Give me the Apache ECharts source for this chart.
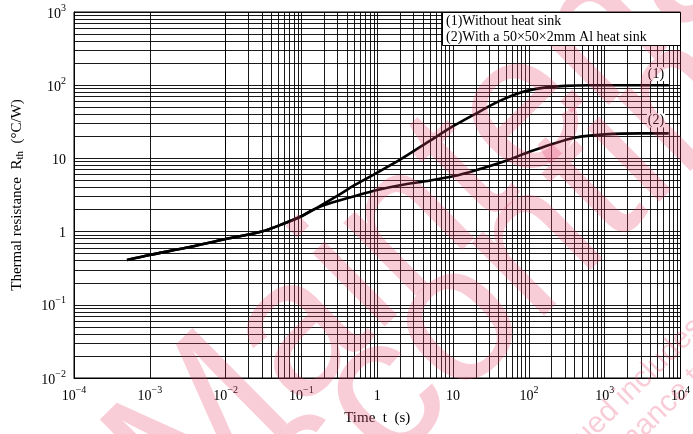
<!DOCTYPE html>
<html>
<head>
<meta charset="utf-8">
<script src="https://cdn.jsdelivr.net/npm/echarts@6/dist/echarts.min.js"></script>
<style>html,body{margin:0;padding:0;background:#fff;}#c{width:693px;height:434px;}</style>
</head>
<body>
<div id="c"></div>
<script>
// ---- data ----
const seriesNames = ['(1)Without heat sink', '(2)With a 50\u00d750\u00d72mm Al heat sink'];
const curveTags = ['(1)', '(2)'];
const times1 = [5e-4, 1e-3, 3e-3, 1e-2, 0.03, 0.06, 0.1, 0.17, 0.3, 0.5, 1, 2, 5, 10, 20, 40, 80, 150, 300, 600, 1000, 3000, 7000];
const rth1   = [0.41, 0.48, 0.6, 0.79, 1.0, 1.3, 1.62, 2.2, 3.1, 4.3, 6.4, 9.6, 17.5, 27.5, 41, 60, 80, 92, 98, 100, 100, 100, 100];
const times2 = [5e-4, 1e-3, 3e-3, 1e-2, 0.03, 0.06, 0.1, 0.13, 0.2, 0.3, 0.5, 1, 2, 5, 10, 20, 50, 100, 200, 400, 1000, 3000, 7000];
const rth2   = [0.41, 0.48, 0.6, 0.79, 1.0, 1.3, 1.62, 1.9, 2.3, 2.62, 3.05, 3.7, 4.3, 5.0, 5.7, 6.9, 9.3, 12.2, 15.6, 19.2, 21.3, 22, 22];
const tagPos = [[4750, 142], [4750, 33]];
const xRange = [1e-4, 1e4];
const yRange = [1e-2, 1e3];
const xTitle = 'Time  t  (s)';
const yTitle = 'Thermal resistance  R{sub|th}  (\u00b0C/W)';
const watermarkBig = ['Maintenance/', 'Discontinued'];
const watermarkSmall = ['Maintenance/Discontinued includes following four Product lifecycle stage.',
  'planed maintenance type, maintenance type, planed discontinued typed, discontinued type'];

// minor log grid values (2..9 per decade)
function minorVals(lo, hi) {
  const out = [];
  for (let e = Math.round(Math.log10(lo)); e < Math.round(Math.log10(hi)); e++) {
    for (let m = 2; m <= 9; m++) out.push(m * Math.pow(10, e));
  }
  return out;
}
const xMinor = minorVals(xRange[0], xRange[1]);
const yMinor = minorVals(yRange[0], yRange[1]);

function powLabel(v) {
  const e = Math.round(Math.log10(v));
  if (e === 0) return '{b|1}';
  if (e === 1) return '{b|10}';
  return '{b|10}{s|' + String(e).replace('-', '\u2212') + '}';
}
const serif = 'Liberation Serif';
const richLab = {
  b: {fontFamily: serif, fontSize: 14, color: '#000', padding: [4, 0, 0, 0]},
  s: {fontFamily: serif, fontSize: 10, color: '#000', verticalAlign: 'top', padding: [0, 0, 6, 0]}
};

const chart = echarts.init(document.getElementById('c'), null, {renderer: 'canvas'});
const gridLine = {color: '#000', width: 1, opacity: 0.9};
const wm = 'rgba(232,70,110,0.27)';
const rot = 0.78;
function wmText(txt, x, y, size) {
  return {type: 'text', z: 100, x: x, y: y, rotation: rot, silent: true,
    style: {text: txt, font: size + 'px "Liberation Sans"', fill: wm, verticalAlign: 'middle', align: 'left'}};
}
const option = {
  animation: false,
  backgroundColor: '#fff',
  graphic: [
    wmText(watermarkBig[0], 145, 488, 195),
    wmText(watermarkBig[1], 150, 630, 195),
    wmText(watermarkSmall[0], 363, 655, 30),
    wmText(watermarkSmall[1], 493, 576, 30),
    {type: 'group', z: 200, children: [
      {type: 'rect', z: 200, shape: {x: 442.5, y: 12.5, width: 238, height: 33}, style: {fill: '#fff', stroke: '#000', lineWidth: 1}},
      {type: 'text', z: 201, x: 446, y: 21, style: {text: seriesNames[0], font: '14px "Liberation Serif"', fill: '#000', verticalAlign: 'middle'}},
      {type: 'text', z: 201, x: 446, y: 37.5, style: {text: seriesNames[1], font: '14px "Liberation Serif"', fill: '#000', verticalAlign: 'middle'}}
    ]}
  ],
  grid: {left: 74, right: 12, top: 12, bottom: 56, show: true, borderColor: '#000', borderWidth: 1, containLabel: false},
  xAxis: {
    type: 'log', logBase: 10, min: xRange[0], max: xRange[1],
    name: xTitle, nameLocation: 'middle', nameGap: 33,
    nameTextStyle: {fontFamily: serif, fontSize: 15, color: '#000'},
    axisLine: {show: true, lineStyle: {color: '#000', width: 1}},
    axisTick: {show: false},
    axisLabel: {formatter: powLabel, rich: richLab, margin: 7, showMinLabel: true, showMaxLabel: true},
    splitLine: {show: true, lineStyle: gridLine}
  },
  yAxis: {
    type: 'log', logBase: 10, min: yRange[0], max: yRange[1],
    name: yTitle, nameLocation: 'middle', nameGap: 48, nameRotate: 90,
    nameTextStyle: {fontFamily: serif, fontSize: 15, color: '#000', rich: {sub: {fontFamily: serif, fontSize: 11, verticalAlign: 'bottom', padding: [6, 0, 0, 0]}}},
    axisLine: {show: true, lineStyle: {color: '#000', width: 1}},
    axisTick: {show: false},
    axisLabel: {formatter: powLabel, rich: richLab, margin: 8},
    splitLine: {show: true, lineStyle: gridLine}
  },
  series: [
    {
      name: seriesNames[0], type: 'line', data: times1.map((t, i) => [t, rth1[i]]),
      showSymbol: false, smooth: 0.3, lineStyle: {color: '#000', width: 2.6}, itemStyle: {color: '#000'}, z: 5,
      markLine: {
        silent: true, symbol: ['none', 'none'], label: {show: false}, animation: false,
        lineStyle: {color: '#000', width: 1, type: 'solid', opacity: 0.9},
        data: xMinor.map(v => ({xAxis: v})).concat(yMinor.map(v => ({yAxis: v})))
      },
      markPoint: {
        symbol: 'rect', symbolSize: 1, itemStyle: {color: 'rgba(0,0,0,0)'},
        label: {show: true, formatter: curveTags[0], fontFamily: serif, fontSize: 14, color: '#000', backgroundColor: '#fff', padding: [0, 1]},
        data: [{coord: tagPos[0]}]
      }
    },
    {
      name: seriesNames[1], type: 'line', data: times2.map((t, i) => [t, rth2[i]]),
      showSymbol: false, smooth: 0.3, lineStyle: {color: '#000', width: 2.6}, itemStyle: {color: '#000'}, z: 5,
      markPoint: {
        symbol: 'rect', symbolSize: 1, itemStyle: {color: 'rgba(0,0,0,0)'},
        label: {show: true, formatter: curveTags[1], fontFamily: serif, fontSize: 14, color: '#000', backgroundColor: '#fff', padding: [0, 1]},
        data: [{coord: tagPos[1]}]
      }
    }
  ]
};
chart.setOption(option);
</script>
</body>
</html>
